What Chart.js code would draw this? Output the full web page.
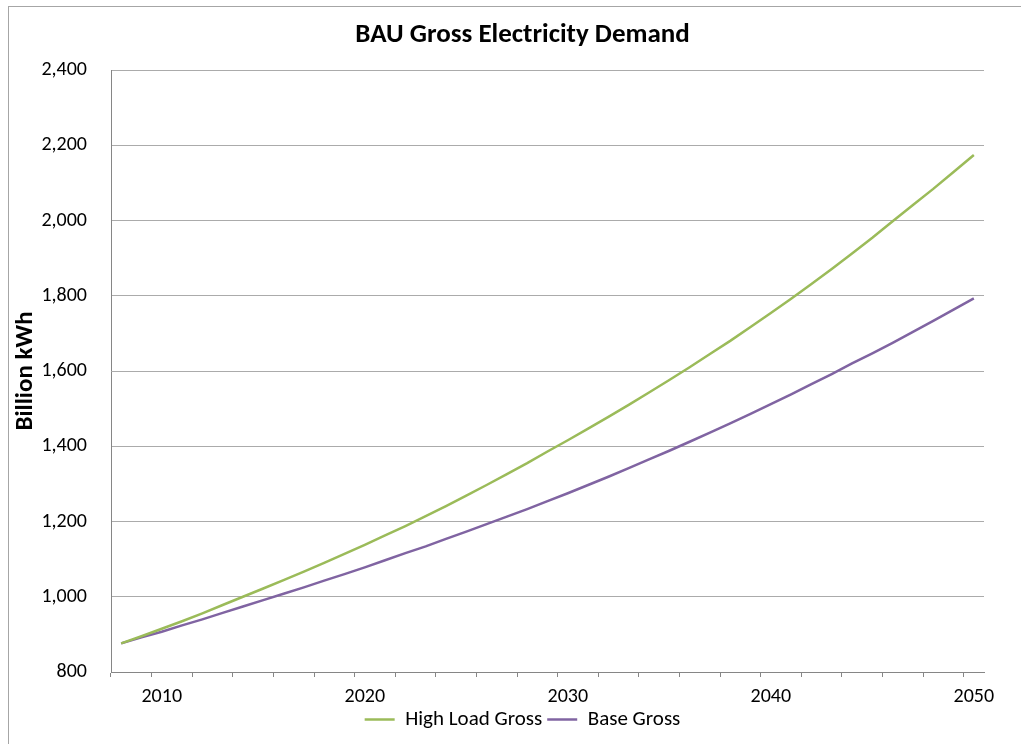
<!DOCTYPE html>
<html>
<head>
<meta charset="utf-8">
<script src="https://cdn.jsdelivr.net/npm/chart.js@4"></script>
<style>
  html, body { margin: 0; padding: 0; background: #fff; }
  #wrap { position: relative; width: 1021px; height: 744px; }
  #frame { position: absolute; left: 8px; top: 6px; right: -2px; bottom: -2px; border: 1px solid #a6a6a6; pointer-events: none; }
</style>
</head>
<body>
<div id="wrap">
  <canvas id="chart"></canvas>
  <div id="frame"></div>
</div>
<script>
// Data
const years = [];
for (let y = 2008; y <= 2050; y++) years.push(y);

const highLoadGross = [
  876, 895, 915, 935, 956, 978, 1000, 1022, 1044, 1067,
  1090, 1114, 1138, 1163, 1188, 1214, 1241, 1269, 1297, 1326,
  1355, 1386, 1416, 1447, 1478, 1510, 1543, 1576, 1610, 1645,
  1680, 1717, 1754, 1792, 1831, 1871, 1912, 1954, 1998, 2041,
  2084, 2129, 2174
];
const baseGross = [
  876, 892, 907, 924, 940, 957, 974, 991, 1008, 1025,
  1043, 1060, 1078, 1097, 1116, 1134, 1154, 1173, 1193, 1213,
  1233, 1254, 1275, 1297, 1319, 1342, 1365, 1388, 1412, 1436,
  1461, 1486, 1512, 1538, 1565, 1592, 1620, 1647, 1675, 1704,
  1733, 1763, 1793
];

const Y_MIN = 800;
const Y_MAX = 2400;
const Y_STEP = 200;

const FONT = "Carlito, Lato, 'Open Sans', sans-serif";
const GREEN = '#9bbb59';
const PURPLE = '#8064a2';
const AXIS_GRAY = '#868686';
const GRID_GRAY = '#ababab';

const chart = new Chart(document.getElementById("chart"), {
  type: 'line',
  data: {
    labels: years,
    datasets: [
      {
        label: 'High Load Gross',
        data: highLoadGross,
        borderColor: GREEN,
        backgroundColor: GREEN,
        borderWidth: 2.5,
        pointRadius: 0,
        tension: 0,
        yAxisID: 'y'
      },
      {
        label: 'Base Gross',
        data: baseGross,
        borderColor: PURPLE,
        backgroundColor: PURPLE,
        borderWidth: 2.5,
        pointRadius: 0,
        tension: 0,
        yAxisID: 'y'
      }
    ]
  },
  options: {
    responsive: true,
    maintainAspectRatio: false,
    animation: false,
    layout: { padding: { left: 24, right: 0, top: 0, bottom: 4 } },
    scales: {
      x: {
        type: 'category',
        offset: true,
        grid: {
          offset: true,
          drawOnChartArea: false,
          tickLength: 5,
          color: (ctx) => (ctx.type === 'tick' && ctx.index % 2 === 0) ? AXIS_GRAY : 'rgba(0,0,0,0)'
        },
        border: { display: true, color: AXIS_GRAY, width: 1 },
        ticks: {
          autoSkip: false,
          maxRotation: 0,
          minRotation: 0,
          padding: 8,
          color: '#000',
          font: { family: FONT, size: 20 },
          callback: function (value) {
            const yr = this.getLabelForValue(value);
            return yr % 10 === 0 ? String(yr) : '';
          }
        },
        afterFit: (s) => { s.height = 32; }
      },
      y: {
        position: 'left',
        min: Y_MIN,
        max: Y_MAX,
        grid: { color: GRID_GRAY, lineWidth: 1, drawTicks: false },
        border: { display: true, color: AXIS_GRAY, width: 1 },
        ticks: {
          stepSize: Y_STEP,
          padding: 24,
          color: '#000',
          font: { family: FONT, size: 20 },
          callback: (v) => v.toLocaleString('en-US')
        },
        title: {
          display: true,
          text: 'Billion kWh',
          color: '#000',
          font: { family: FONT, size: 25, weight: 'bold' },
          padding: { top: -13, bottom: 0 }
        },
        afterFit: (s) => { s.width = 87; }
      },
      yRight: {
        position: 'right',
        display: true,
        grid: { display: false },
        border: { display: false },
        ticks: { display: false },
        afterFit: (s) => { s.width = 37; }
      }
    },
    plugins: {
      title: {
        display: true,
        text: 'BAU Gross Electricity Demand',
        color: '#000',
        font: { family: FONT, size: 27, weight: 'bold' },
        padding: { top: 19, bottom: 18.6 }
      },
      legend: {
        display: true,
        position: 'bottom',
        labels: {
          color: '#000',
          font: { family: FONT, size: 21 },
          usePointStyle: true,
          pointStyle: 'line',
          pointStyleWidth: 30,
          padding: 5
        }
      },
      tooltip: { enabled: false }
    }
  }
});
</script>
</body>
</html>
